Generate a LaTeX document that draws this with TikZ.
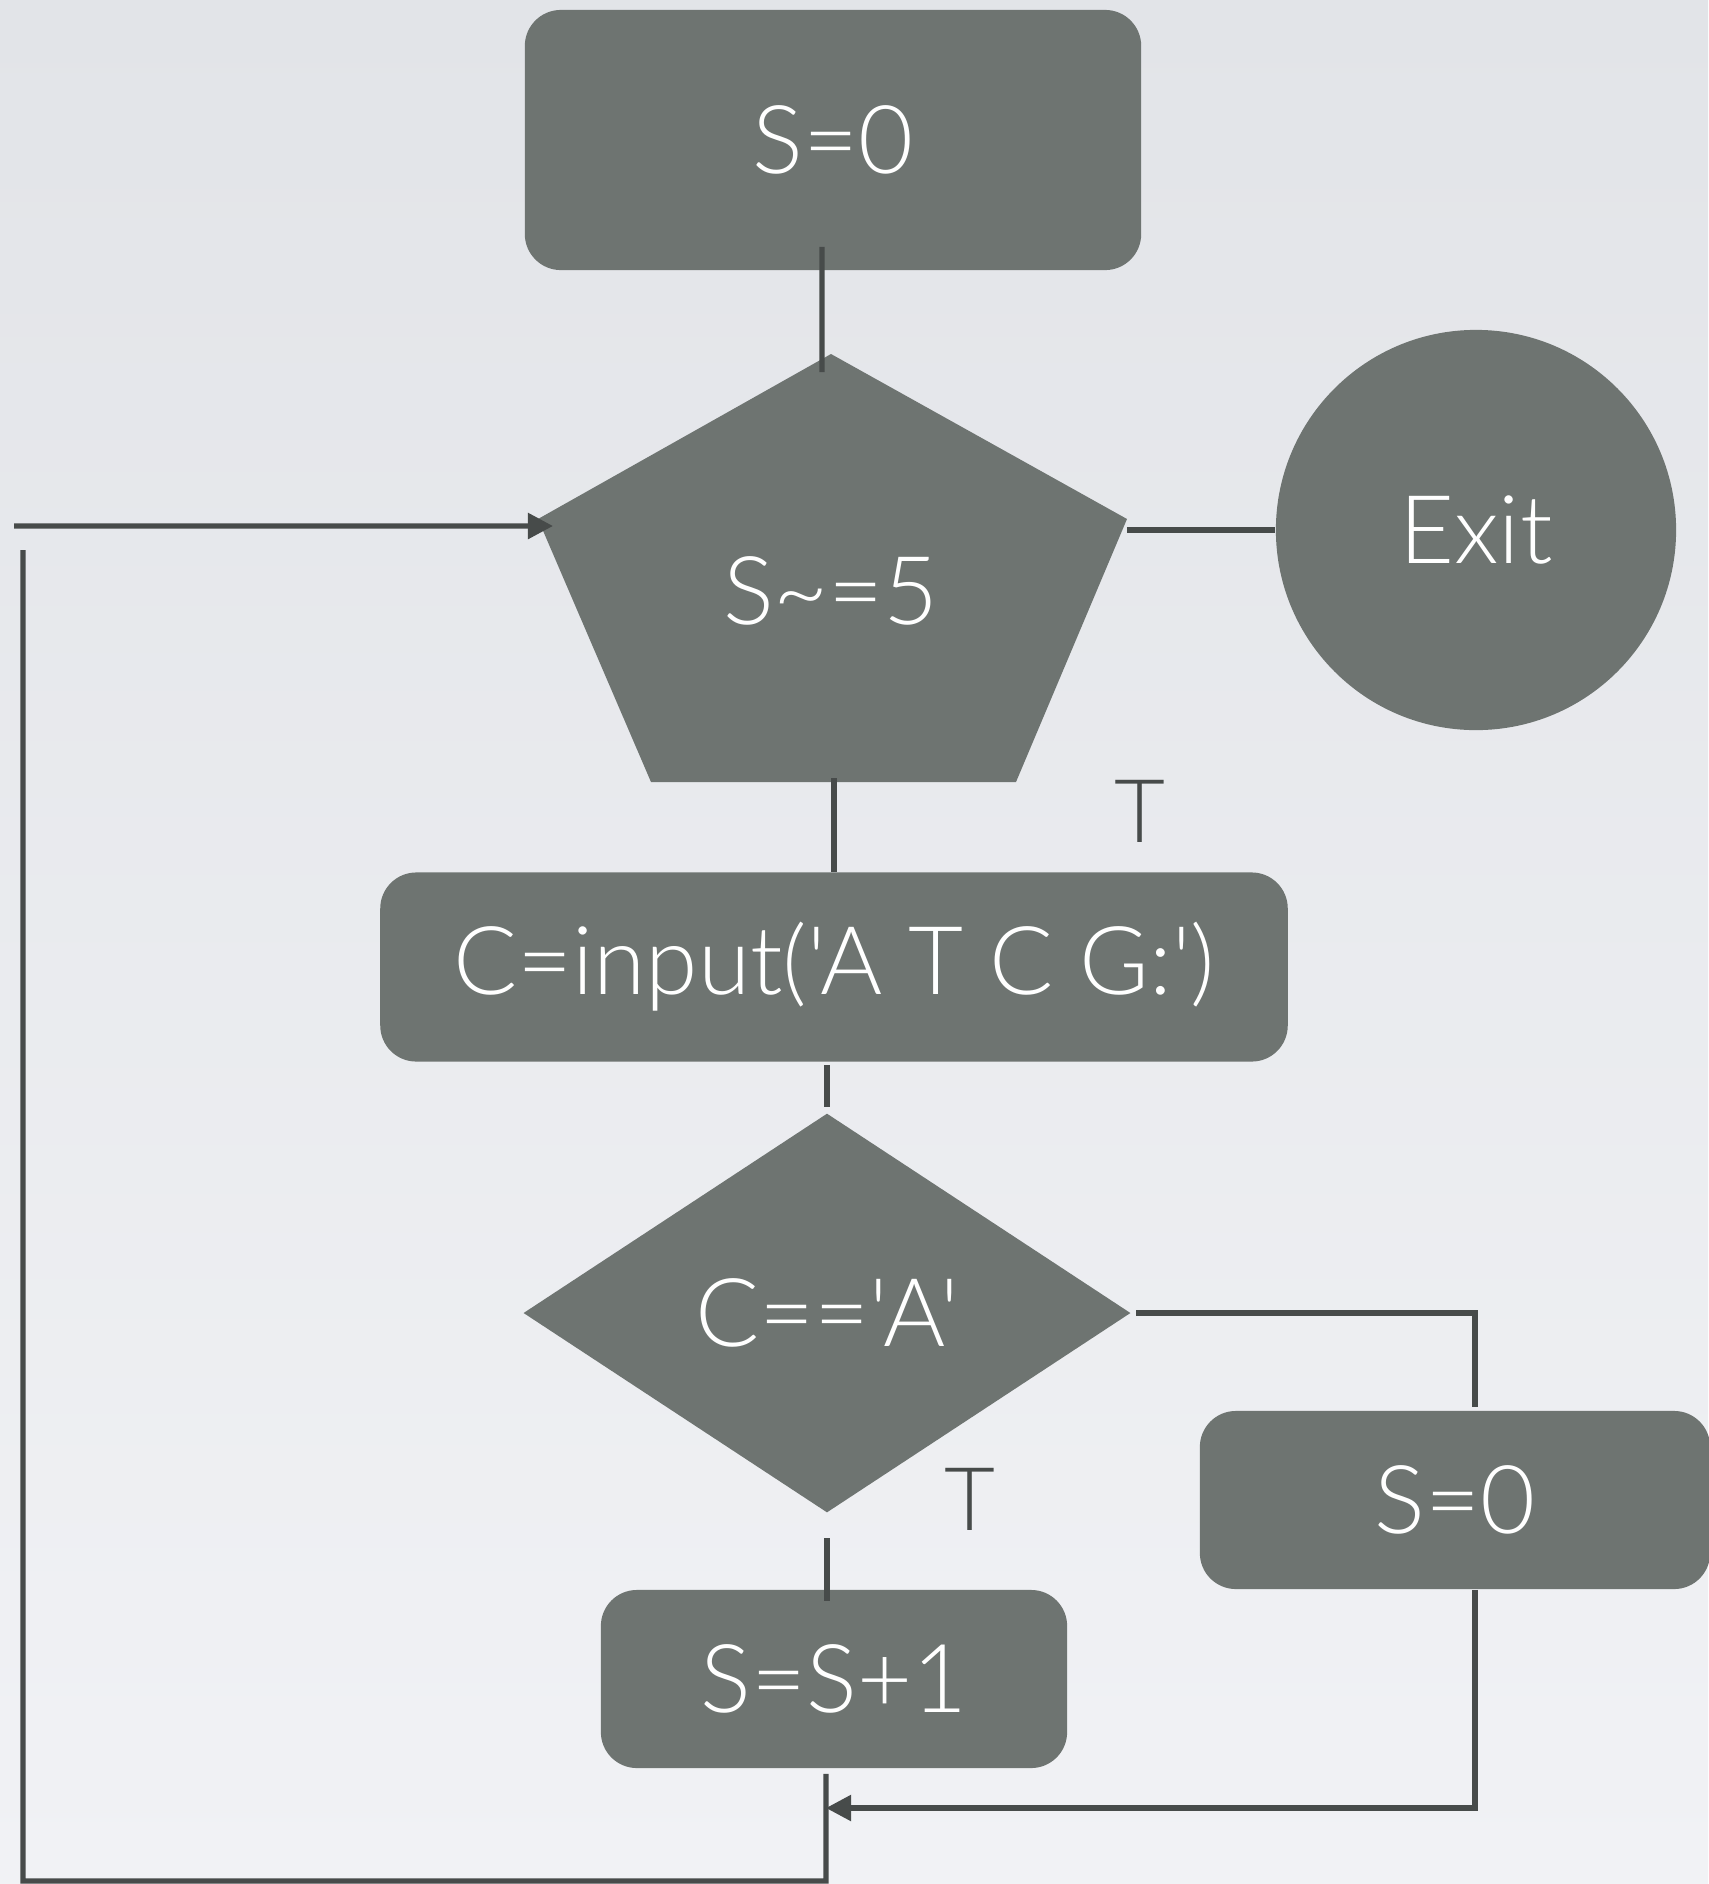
\documentclass[tikz,border=0pt]{standalone}
\usepackage{fontspec}
\usetikzlibrary{arrows.meta, shapes.geometric, calc}
\newfontfamily\gill{Lato Light}
\definecolor{slate}{HTML}{6E7471}
\definecolor{ink}{HTML}{474B4A}
\definecolor{bgtop}{HTML}{E2E4E8}
\definecolor{bgbot}{HTML}{F1F2F5}
\tikzset{
  font=\gill\fontsize{27}{32}\selectfont,
  >={Triangle[length=0.25cm, width=0.25cm]},
  %
  box/.style={fill=slate, rounded corners=0.36cm, inner sep=0pt, text=white},
  blob/.style={circle, fill=slate, inner sep=0pt, text=white},
  rhomb/.style={diamond, fill=slate, inner sep=0pt, text=white},
  %
  wire/.style={draw=ink, line width=1.5pt},
  flow/.style={wire, ->},
  tlabel/.style={text=ink, inner sep=0pt, font=\gill\fontsize{25}{30}\selectfont},
}
\begin{document}
\begin{tikzpicture}[x=0.01cm, y=-0.01cm]

% ------------------------------------------------------------ background
\fill[top color=bgtop, bottom color=bgbot] (0,0) rectangle (1708,1884);
\useasboundingbox (0,0) rectangle (1708,1884);

% ----------------------------------------------------------------- nodes
\node[box, minimum width=6.16cm, minimum height=2.60cm] (init) at (833,140) {S=0};

\coordinate (pa)  at (831,354);
\coordinate (pr)  at (1127,519);
\coordinate (pbr) at (1016,782);
\coordinate (pbl) at (651,782);
\coordinate (pl)  at (538,519);
\fill[slate] (pa) -- (pr) -- (pbr) -- (pbl) -- (pl) -- cycle;
\node[text=white, inner sep=0pt] (cond) at (831,591) {S\textasciitilde=5};

\node[blob, minimum size=4.0cm] (exit) at (1476,530) {Exit};

\node[box, minimum width=9.07cm, minimum height=1.89cm] (read) at (834,967) {C=input('A T C G:')};

\node[rhomb, minimum width=6.07cm, minimum height=3.99cm] (test) at (827,1313) {C=='A'};

\node[box, minimum width=5.10cm, minimum height=1.78cm] (reset) at (1455,1500) {S=0};
\node[box, minimum width=4.66cm, minimum height=1.78cm] (incr) at (834,1679) {S=S+1};

\node[tlabel] (tpent) at (1140,811) {T};
\node[tlabel] (tdiam) at (970,1499) {T};

% ------------------------------------------------------------ connectors
\coordinate (loopin) at (14,526);
\coordinate (loopup) at (23,550);
\coordinate (floor)  at (826,1881);
\coordinate (join)   at (826,1808);

\draw[wire] ([xshift=-0.11cm, yshift=0.24cm]init.south) -- ([xshift=-0.09cm, yshift=-0.18cm]pa);
\draw[flow] (loopin) -- ([xshift=0.15cm, yshift=-0.07cm]pl);
\draw[wire] (pr |- exit.west) -- (exit.west);
\draw[wire] ([yshift=0.04cm]read.north |- pbl) -- (read.north);
\draw[wire] ([yshift=-0.03cm]read.south -| test.north) -- ([yshift=0.06cm]test.north);
\draw[wire] ([yshift=-0.25cm]test.south) -- ([yshift=-0.12cm]incr.north -| test.south);
\draw[wire] ([xshift=0.05cm]test.east) -| ([xshift=0.2cm, yshift=0.03cm]reset.north);
\draw[flow] ([xshift=0.2cm]reset.south) |- (join);
\draw[wire] ([xshift=-0.08cm, yshift=-0.05cm]incr.south) -- (floor) -| (loopup);

\end{tikzpicture}
\end{document}
